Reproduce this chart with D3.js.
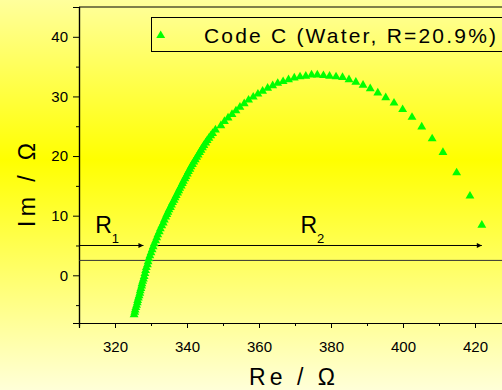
<!DOCTYPE html>
<html>
<head>
<meta charset="utf-8">
<script src="https://cdn.jsdelivr.net/npm/d3@7"></script>
<style>
  html, body { margin: 0; padding: 0; }
  svg { display: block; }
  text { font-family: "Liberation Sans", Arial, sans-serif; }
</style>
</head>
<body>
<svg id="chart" width="502" height="390"></svg>
<script>
// impedance data (Nyquist plot)
const re = [
	325.3, 325.5, 325.6, 325.8, 326.0, 326.2, 326.3, 326.5, 326.7, 326.9,
	327.0, 327.2, 327.4, 327.5, 327.7, 327.9, 328.1, 328.3, 328.5, 328.7,
	329.0, 329.2, 329.4, 329.7, 330.0, 330.3, 330.6, 330.9, 331.3, 331.6,
	331.9, 332.3, 332.6, 333.0, 333.4, 333.7, 334.1, 334.4, 334.7, 335.0,
	335.4, 335.7, 336.0, 336.4, 336.7, 337.0, 337.4, 337.7, 338.0, 338.4,
	338.7, 339.0, 339.4, 339.7, 340.1, 340.4, 340.8, 341.1, 341.5, 341.9,
	342.3, 342.7, 343.1, 343.5, 343.9, 344.3, 344.7, 345.2, 345.6, 346.1,
	346.6, 347.1, 347.9, 349.4, 350.4, 351.4, 352.5, 353.6, 354.7, 355.9,
	357.1, 358.4, 359.7, 361.0, 362.4, 363.8, 365.2, 366.7, 368.2, 369.8,
	371.4, 373.0, 374.6, 376.2, 377.9, 379.6, 381.4, 383.2, 385.0, 386.9,
	388.9, 390.9, 393.0, 395.2, 397.5, 399.9, 402.5, 405.2, 408.1, 411.1,
	414.9, 418.6, 421.9
];
const im = [
	-6.6, -6.2, -5.8, -5.4, -5.0, -4.6, -4.2, -3.8, -3.4, -3.0,
	-2.6, -2.2, -1.8, -1.4, -1.0, -0.6, -0.2, 0.3, 0.8, 1.3,
	1.8, 2.3, 2.8, 3.3, 3.8, 4.3, 4.8, 5.3, 5.8, 6.3,
	6.8, 7.3, 7.8, 8.3, 8.8, 9.3, 9.8, 10.2, 10.6, 11.0,
	11.4, 11.8, 12.2, 12.6, 13.0, 13.4, 13.8, 14.2, 14.6, 15.0,
	15.4, 15.8, 16.2, 16.6, 17.0, 17.4, 17.8, 18.2, 18.6, 19.0,
	19.4, 19.8, 20.2, 20.6, 21.0, 21.4, 21.8, 22.2, 22.6, 23.0,
	23.4, 23.8, 24.4, 25.1, 25.8, 26.4, 27.0, 27.6, 28.2, 28.8,
	29.4, 29.9, 30.4, 30.9, 31.4, 31.8, 32.2, 32.5, 32.8, 33.1,
	33.3, 33.4, 33.6, 33.6, 33.5, 33.4, 33.3, 33.2, 32.8, 32.4,
	31.9, 31.3, 30.6, 29.8, 28.9, 27.8, 26.5, 24.9, 22.9, 20.6,
	17.2, 13.3, 8.4
];
const xMajor = [320, 340, 360, 380, 400, 420];
const xMinor = [310, 330, 350, 370, 390, 410, 430];
const yMajor = [0, 10, 20, 30, 40];
const yMinor = [-5, 5, 15, 25, 35];
const seriesName = "Code C (Water, R=20.9%)";
// R1 / R2 arrows: [start Re, end Re] at Im = 5, plus the baseline at Im = 2.5
const arrows = [
	{label: "R", sub: "1", from: 310, to: 327.9, labelAt: 314.5},
	{label: "R", sub: "2", from: 330.6, to: 421.9, labelAt: 371.5}
];
const arrowIm = 5;
const baseIm = 2.5;

const svg = d3.select("#chart");

// yellow background gradient
const grad = svg.append("defs").append("linearGradient")
	.attr("id", "bg")
	.attr("x1", 0).attr("y1", 0).attr("x2", 0).attr("y2", 1);
grad.append("stop").attr("offset", 0).attr("stop-color", "#ffff9c");
grad.append("stop").attr("offset", 0.41).attr("stop-color", "#ffff00");
grad.append("stop").attr("offset", 1).attr("stop-color", "#ffffd8");
svg.select("defs").append("marker")
	.attr("id", "head")
	.attr("viewBox", "0 0 10 10")
	.attr("refX", 10).attr("refY", 5)
	.attr("markerWidth", 7).attr("markerHeight", 5)
	.attr("markerUnits", "userSpaceOnUse")
	.attr("orient", "auto")
	.append("path")
		.attr("d", "M0,0L10,5L0,10Z")
		.attr("fill", "#000");

svg.append("rect")
	.attr("width", 502).attr("height", 390)
	.attr("fill", "url(#bg)");

var margin = {top: 7, left: 79, bottom: 323};
var x = d3.scaleLinear().domain([310, 430]).range([margin.left, margin.left + 120 * 3.6]);
var y = d3.scaleLinear().domain([-8, 45]).range([margin.bottom, margin.top]);

// frame (top line; right side is outside the picture)
svg.append("line")
	.attr("x1", x(310)).attr("x2", x(430))
	.attr("y1", y(45)).attr("y2", y(45))
	.attr("stroke", "#000").attr("stroke-width", 1.2);

// axes
function styleAxis(g) {
	g.select(".domain").attr("stroke", "#000").attr("stroke-width", 1.2);
	g.selectAll(".tick line").attr("stroke", "#000");
	g.selectAll(".tick text").attr("font-size", 15).attr("fill", "#000")
		.attr("font-family", "Liberation Sans, Arial, sans-serif");
}
svg.append("g")
	.attr("transform", "translate(0," + margin.bottom + ")")
	.call(d3.axisBottom(x).tickValues(xMinor).tickSize(3).tickFormat(""))
	.call(styleAxis);
svg.append("g")
	.attr("transform", "translate(0," + margin.bottom + ")")
	.call(d3.axisBottom(x).tickValues(xMajor).tickSize(5).tickPadding(13))
	.call(styleAxis);
svg.append("g")
	.attr("transform", "translate(" + margin.left + ",0)")
	.call(d3.axisLeft(y).tickValues(yMinor).tickSize(3).tickFormat(""))
	.call(styleAxis);
svg.append("g")
	.attr("transform", "translate(" + margin.left + ",0)")
	.call(d3.axisLeft(y).tickValues(yMajor).tickSize(6).tickPadding(5))
	.call(styleAxis);

// axis titles
svg.append("text")
	.attr("x", 292).attr("y", 385)
	.attr("text-anchor", "middle")
	.attr("font-size", 23)
	.attr("textLength", 86)
	.text("Re / Ω");
svg.append("text")
	.attr("transform", "translate(35,185) rotate(-90)")
	.attr("text-anchor", "middle")
	.attr("font-size", 23)
	.attr("textLength", 84)
	.text("Im / Ω");

// baseline and arrows
svg.append("line")
	.attr("x1", x(310)).attr("x2", x(430))
	.attr("y1", y(baseIm)).attr("y2", y(baseIm))
	.attr("stroke", "#333").attr("stroke-width", 1);
svg.selectAll(".arrow")
	.data(arrows)
	.enter().append("line")
		.attr("class", "arrow")
		.attr("x1", d => x(d.from)).attr("x2", d => x(d.to))
		.attr("y1", y(arrowIm)).attr("y2", y(arrowIm))
		.attr("stroke", "#000").attr("stroke-width", 1)
		.attr("marker-end", "url(#head)");
var lab = svg.selectAll(".rlab")
	.data(arrows)
	.enter().append("text")
		.attr("class", "rlab")
		.attr("x", d => x(d.labelAt))
		.attr("y", 233)
		.attr("font-size", 23);
lab.append("tspan").text(d => d.label);
lab.append("tspan").attr("font-size", 13).attr("dy", 10).text(d => d.sub);

// data points
var tri = d3.symbol().type(d3.symbolTriangle).size(34);
svg.selectAll(".pt")
	.data(re.map((r, i) => [r, im[i]]))
	.enter().append("path")
		.attr("class", "pt")
		.attr("d", tri)
		.attr("transform", d => "translate(" + x(d[0]) + "," + y(d[1]) + ")")
		.attr("fill", "#00ff00");

// legend
svg.append("rect")
	.attr("x", 151.5).attr("y", 17.5)
	.attr("width", 360).attr("height", 34)
	.attr("fill", "none").attr("stroke", "#000").attr("stroke-width", 1);
svg.append("path")
	.attr("d", tri)
	.attr("transform", "translate(160.7,35.5)")
	.attr("fill", "#00ff00");
svg.append("text")
	.attr("x", 204).attr("y", 43)
	.attr("font-size", 21)
	.attr("textLength", 292)
	.text(seriesName);
</script>
</body>
</html>
